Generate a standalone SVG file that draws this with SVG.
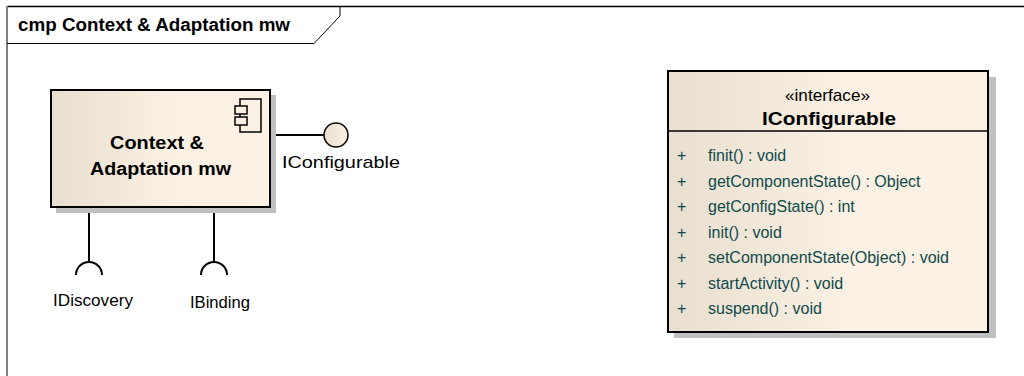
<svg xmlns="http://www.w3.org/2000/svg" width="1024" height="376" viewBox="0 0 1024 376">
  <style>
    text { font-family: "Liberation Sans", Arial, sans-serif; fill: #000; }
    .title { font-size: 18px; font-weight: bold; }
    .name { font-size: 18px; font-weight: bold; }
    .label { font-size: 17px; }
    .op { font-size: 16px; fill: #0e4a4a; }
    .shadow { fill: #c0c0c0; stroke: none; }
    .box { stroke: #000; stroke-width: 2; }
    .conn { stroke: #000; stroke-width: 2; fill: none; }
  </style>
  <defs>
    <linearGradient id="fillGrad" x1="0" y1="0" x2="1" y2="0">
      <stop offset="0" stop-color="#e9dfd0"/>
      <stop offset="0.55" stop-color="#faf0e3"/>
      <stop offset="1" stop-color="#fbf1e4"/>
    </linearGradient>
    <linearGradient id="ballGrad" x1="0" y1="0" x2="1" y2="0">
      <stop offset="0" stop-color="#e9dfd0"/>
      <stop offset="1" stop-color="#fbf1e4"/>
    </linearGradient>
  </defs>

  <rect width="1024" height="376" fill="#fff"/>

  <!-- diagram frame -->
  <g id="frame">
    <line x1="7" y1="6.5" x2="1024" y2="6.5" stroke="#000" stroke-width="1.5"/>
    <line x1="7" y1="6" x2="7" y2="376" stroke="#808080" stroke-width="2"/>
    <path d="M7 43.5 H314 L340 16 V6.5" fill="none" stroke="#000" stroke-width="1"/>
    <text class="title" x="18" y="31" textLength="272" lengthAdjust="spacingAndGlyphs">cmp Context &amp; Adaptation mw</text>
  </g>

  <!-- connectors: provided and required interfaces -->
  <g id="connectors">
    <line class="conn" x1="270" y1="135" x2="324" y2="135"/>
    <line class="conn" x1="89" y1="208" x2="89" y2="261"/>
    <line class="conn" x1="214" y1="208" x2="214" y2="261"/>
    <path class="conn" d="M76 275 A13 13 0 0 1 102 275"/>
    <path class="conn" d="M201 275 A13 13 0 0 1 227 275"/>
  </g>

  <!-- component -->
  <g id="component">
    <rect class="shadow" x="56" y="95" width="220" height="118"/>
    <rect class="box" x="51" y="90" width="219" height="117" fill="url(#fillGrad)"/>
    <g fill="#faf0e3" stroke="#000" stroke-width="1.5">
      <rect x="240" y="99" width="21" height="33"/>
      <rect x="235" y="106" width="12" height="8"/>
      <rect x="235" y="117" width="12" height="8"/>
    </g>
    <text class="name" x="110" y="149" textLength="94" lengthAdjust="spacingAndGlyphs">Context &amp;</text>
    <text class="name" x="90" y="175" textLength="141" lengthAdjust="spacingAndGlyphs">Adaptation mw</text>
  </g>

  <!-- provided interface IConfigurable -->
  <g id="port-iconfigurable">
    <circle cx="336" cy="135" r="12" fill="url(#ballGrad)" stroke="#000" stroke-width="1.5"/>
    <text class="label" x="282" y="168" textLength="118" lengthAdjust="spacingAndGlyphs">IConfigurable</text>
  </g>

  <!-- required interfaces -->
  <g id="port-idiscovery">
    <text class="label" x="53" y="306" textLength="80" lengthAdjust="spacingAndGlyphs">IDiscovery</text>
  </g>
  <g id="port-ibinding">
    <text class="label" x="190" y="308" textLength="60" lengthAdjust="spacingAndGlyphs">IBinding</text>
  </g>

  <!-- interface class -->
  <g id="interface-iconfigurable">
    <rect class="shadow" x="674" y="77" width="322" height="261"/>
    <rect class="box" x="668" y="71" width="320" height="261" fill="url(#fillGrad)"/>
    <line x1="668" y1="131" x2="988" y2="131" stroke="#000" stroke-width="1.5"/>
    <text class="label" x="785" y="101" textLength="85" lengthAdjust="spacingAndGlyphs">«interface»</text>
    <text class="name" x="762" y="125" textLength="134" lengthAdjust="spacingAndGlyphs">IConfigurable</text>
    <g class="op">
      <text class="op" x="677" y="161">+</text><text class="op" x="708" y="161">finit() : void</text>
      <text class="op" x="677" y="186.5">+</text><text class="op" x="708" y="186.5">getComponentState() : Object</text>
      <text class="op" x="677" y="212">+</text><text class="op" x="708" y="212">getConfigState() : int</text>
      <text class="op" x="677" y="237.5">+</text><text class="op" x="708" y="237.5">init() : void</text>
      <text class="op" x="677" y="263">+</text><text class="op" x="708" y="263">setComponentState(Object) : void</text>
      <text class="op" x="677" y="288.5">+</text><text class="op" x="708" y="288.5">startActivity() : void</text>
      <text class="op" x="677" y="314">+</text><text class="op" x="708" y="314">suspend() : void</text>
    </g>
  </g>
</svg>
